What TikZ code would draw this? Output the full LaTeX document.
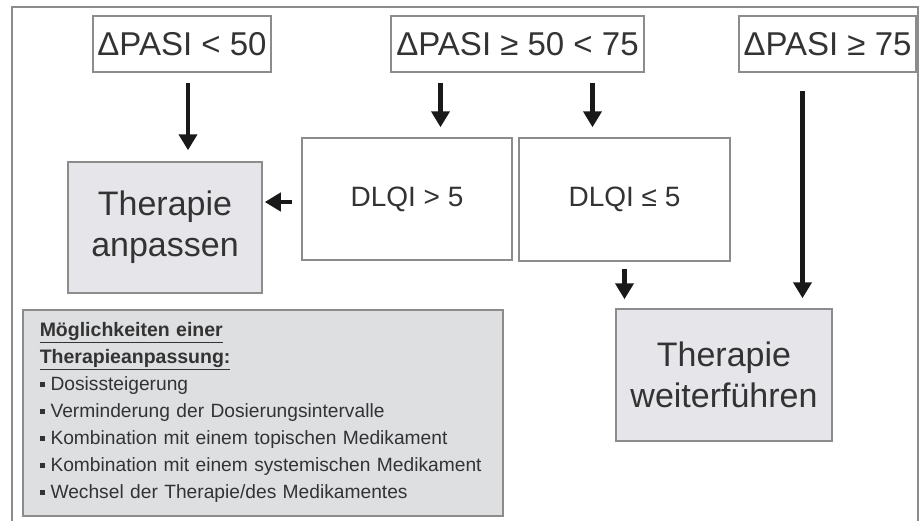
\documentclass[tikz,border=0pt]{standalone}
\usepackage{fontspec}
\setmainfont{Liberation Sans}
\usetikzlibrary{arrows.meta}
\definecolor{framegray}{HTML}{8C8C8C}
\definecolor{boxfill}{HTML}{E6E6EA}
\definecolor{listfill}{HTML}{DEDFE1}
\definecolor{inkgray}{HTML}{333333}
\newcommand{\bul}{\rule[0.22em]{0.26em}{0.26em}\hspace{0.3em}}
\newcommand{\hdr}[1]{{\fontsize{19.5}{27}\selectfont\bfseries\underline{#1}}}
\tikzset{
  crit/.style={draw=framegray, line width=1.5pt, text=inkgray, inner sep=0pt,
    font=\fontsize{33}{38}\selectfont},
  dlqi/.style={crit, fill=white, font=\fontsize{28}{32}\selectfont},
  result/.style={crit, fill=boxfill, align=center, font=\fontsize{34}{41}\selectfont},
  arr/.style={draw=black!90, line width=4.5pt, -{Triangle[width=18pt,length=16pt]}}
}
\begin{document}
\begin{tikzpicture}[x=1pt,y=-1pt]
\useasboundingbox (0,0) rectangle (922,520);
\draw[framegray, line width=1.5pt] (12,7) rectangle (918,540);
% criteria
\node[crit, minimum width=178pt, minimum height=56pt] (pasiA) at (182,44) {ΔPASI < 50};
\node[crit, minimum width=253pt, minimum height=56pt] (pasiB) at (517.5,44) {ΔPASI ≥ 50 < 75};
\node[crit, minimum width=177pt, minimum height=56pt] (pasiC) at (827.5,44) {ΔPASI ≥ 75};
\node[dlqi, minimum width=210pt, minimum height=122pt] (dlqiHigh) at (407,199) {DLQI > 5};
\node[dlqi, minimum width=211pt, minimum height=123pt] (dlqiLow) at (624.5,199.5) {DLQI ≤ 5};
% outcomes
\node[result, minimum width=194pt, minimum height=131pt] (anpassen) at (165,227.5) {Therapie\\anpassen};
\node[result, minimum width=216pt, minimum height=132pt] (weiter) at (724,375) {Therapie\\weiterführen};
\node[crit, fill=listfill, anchor=north west, align=left, text width=446pt,
  minimum width=480pt, minimum height=206pt, inner xsep=17pt, inner ysep=13pt,
  font=\fontsize{19.2}{27}\selectfont] (options) at (22,309)
  {\hdr{Möglichkeiten einer}\\
   \hdr{Therapieanpassung:}\\
   \bul Dosissteigerung\\
   \bul Verminderung der Dosierungsintervalle\\
   \bul Kombination mit einem topischen Medikament\\
   \bul Kombination mit einem systemischen Medikament\\
   \bul Wechsel der Therapie/des Medikamentes};
% arrows
\draw[arr, shorten <=10pt, shorten >=11pt] ([xshift=6pt]pasiA.south) -- ([xshift=6pt]pasiA.south |- anpassen.north);
\draw[arr, shorten <=10pt, shorten >=10pt] ([xshift=-77pt]pasiB.south) -- ([xshift=-77pt]pasiB.south |- dlqiHigh.north);
\draw[arr, shorten <=10pt, shorten >=10pt] ([xshift=75pt]pasiB.south) -- ([xshift=75pt]pasiB.south |- dlqiLow.north);
\draw[arr, shorten <=18pt, shorten >=10pt] ([xshift=-25pt]pasiC.south) -- ([xshift=-25pt]pasiC.south |- weiter.north);
\draw[arr, shorten <=9pt, shorten >=2pt] ([yshift=-3pt]dlqiHigh.west) -- ([yshift=-3pt]dlqiHigh.west -| anpassen.east);
\draw[arr, shorten <=7pt, shorten >=9pt] (dlqiLow.south) -- (dlqiLow.south |- weiter.north);
\end{tikzpicture}
\end{document}
